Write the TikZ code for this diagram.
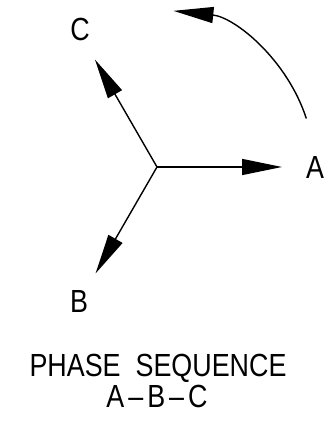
\documentclass[tikz,border=0pt]{standalone}
\usepackage{fontspec}
\newfontfamily\cadfont[FakeStretch=0.84]{Liberation Sans}
\usetikzlibrary{arrows.meta}

\begin{document}
\begin{tikzpicture}[x=1pt, y=1pt, line width=1.4pt,
		phase/.style={-{Triangle[length=40pt, width=16pt]}},
		every node/.style={font=\cadfont\fontsize{32}{34}\selectfont, inner sep=0pt, anchor=base}]
				\useasboundingbox (0,0) rectangle (327,425);
				\coordinate (O) at (157,258);
				\path (O) ++(0:125) coordinate (tipA);
				\path (O) ++(240:123) coordinate (tipB);
				\path (O) ++(120:124) coordinate (tipC);
				\draw[phase] (O) -- (tipA);
				\draw[phase] (O) -- (tipB);
				\draw[phase] (O) -- (tipC);
				\draw[phase] (O) ++(18:157) arc[start angle=18, end angle=84, radius=157];
				\node (A) at (315,246) {A};
				\node (B) at (79,112) {B};
				\node (C) at (80,384) {C};
				\node (seq) at (158,48) {PHASE\ \ SEQUENCE};
				\node (abc) at (157,17) {A\hspace{4pt}\textendash\hspace{4pt}B\hspace{4pt}\textendash\hspace{4pt}C};
			\end{tikzpicture}
\end{document}
